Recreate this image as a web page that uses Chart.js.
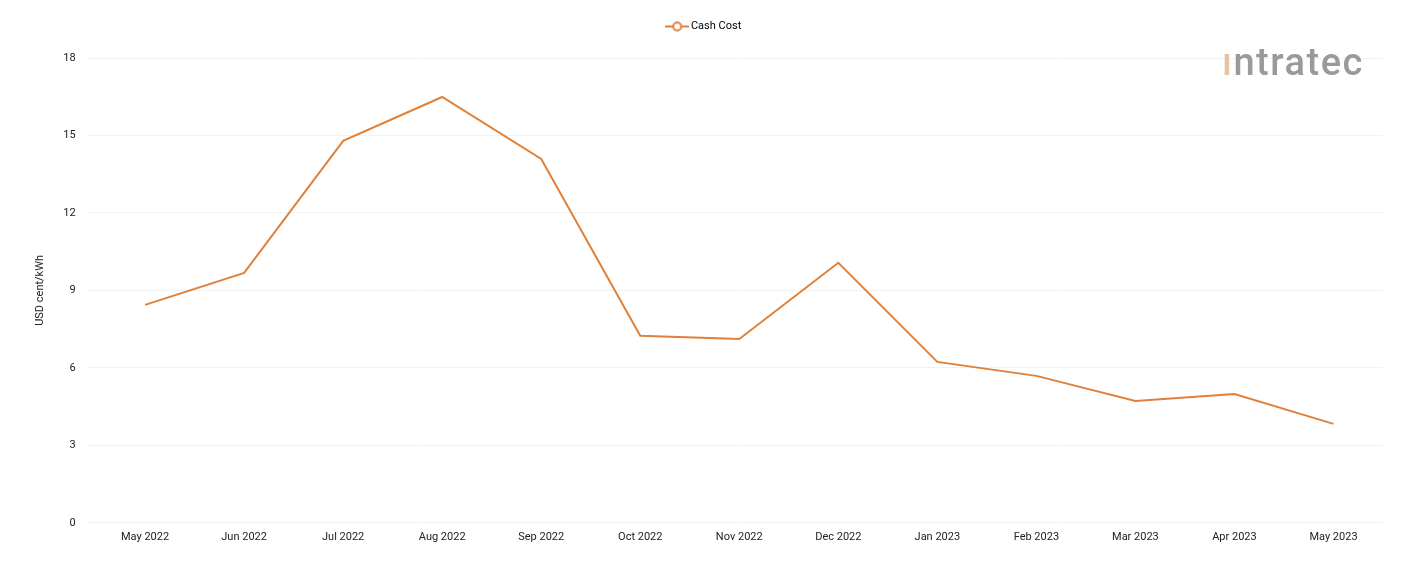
<!DOCTYPE html>
<html><head><meta charset="utf-8">
<script src="https://cdn.jsdelivr.net/npm/chart.js@4"></script>
<style>
html,body{margin:0;padding:0;background:#fff;}
#wrap{position:relative;width:1401px;height:561px;}
#logo{position:absolute;left:1222px;top:40px;font-family:Roboto,sans-serif;font-size:38px;color:#9a9a9a;font-weight:500;letter-spacing:1.5px;}
#logo span{color:#e8c4a6;}
</style></head><body>
<div id="wrap"><canvas id="c" width="1401" height="561"></canvas>
<div id="logo"><span>ı</span>ntratec</div></div>
<script>
const categories=["May 2022","Jun 2022","Jul 2022","Aug 2022","Sep 2022","Oct 2022","Nov 2022","Dec 2022","Jan 2023","Feb 2023","Mar 2023","Apr 2023","May 2023"];
const cashCost=[8.44,9.68,14.79,16.49,14.09,7.24,7.12,10.07,6.23,5.69,4.72,4.99,3.83];
const yTicks=[0,3,6,9,12,15,18];
const color="#e0813a";
const ic=document.createElement('canvas');ic.width=24;ic.height=12;
{const g=ic.getContext('2d');g.strokeStyle=color;g.lineWidth=2;g.beginPath();g.moveTo(0,6);g.lineTo(24,6);g.stroke();
g.fillStyle='#fff';g.beginPath();g.arc(12,6,4,0,Math.PI*2);g.fill();g.stroke();}
Chart.defaults.font.family="Roboto, sans-serif";
Chart.defaults.color="#222";
new Chart(document.getElementById('c'),{
type:'line',
data:{labels:categories,datasets:[{label:'Cash Cost',data:cashCost,borderColor:color,backgroundColor:'#fff',borderWidth:2,pointRadius:0,pointHoverRadius:0,tension:0}]},
options:{responsive:false,animation:false,
layout:{padding:{left:30,right:18,top:2,bottom:17}},
plugins:{legend:{labels:{usePointStyle:true,font:{size:11},padding:19,
 generateLabels:(ch)=>[{text:' Cash Cost',pointStyle:ic,datasetIndex:0,lineWidth:0}]}},tooltip:{enabled:false}},
scales:{
x:{offset:true,grid:{display:false},border:{display:false},ticks:{font:{size:11},maxRotation:0,padding:0}},
y:{min:0,max:18,afterBuildTicks:(a)=>{a.ticks=yTicks.map(v=>({value:v}));},grid:{color:'#f2f2f2'},border:{display:false},ticks:{font:{size:11},padding:12},
 title:{display:true,text:'USD cent/kWh',font:{size:11}}}
}},
plugins:[{id:'lp',beforeInit(chart){const L=chart.legend;if(L){const f=L.fit;L.fit=function(){f.call(this);this.height+=16;};}}}]
});
</script></body></html>
